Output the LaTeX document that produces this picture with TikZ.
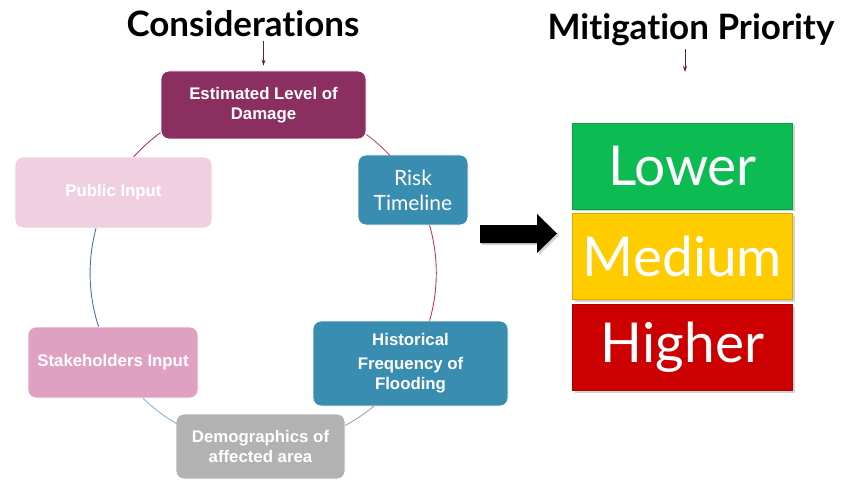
\documentclass[tikz,border=0pt]{standalone}
\usepackage{fontspec}
\setmainfont{Liberation Sans}
\newfontfamily\gillfont[Ligatures=NoCommon]{Lato}
\usetikzlibrary{arrows.meta,backgrounds,shadows}

\definecolor{dmgfill}{RGB}{139,46,96}
\definecolor{pubfill}{RGB}{240,207,225}
\definecolor{stakefill}{RGB}{224,160,194}
\definecolor{tealfill}{RGB}{57,141,176}
\definecolor{demofill}{RGB}{178,178,178}
\definecolor{lowfill}{RGB}{12,187,82}
\definecolor{medfill}{RGB}{255,204,0}
\definecolor{highfill}{RGB}{204,0,0}
\definecolor{tipcol}{RGB}{92,35,70}

\begin{document}
\begin{tikzpicture}[x=1pt,y=1pt,
  box/.style={rounded corners=8pt,draw=white,line width=0.8pt,align=center,
    text=white,inner sep=0pt,font=\bfseries\fontsize{16.8}{20}\selectfont},
  prio/.style={fill=#1,draw=#1!85!black,line width=0.8pt,text=white,
    minimum width=220,minimum height=86,inner sep=0pt,
    font=\gillfont\fontsize{55}{55}\selectfont,
    drop shadow={shadow xshift=2pt,shadow yshift=-2pt,opacity=0.35}},
  title/.style={font=\gillfont\bfseries\fontsize{35}{35}\selectfont,inner sep=0pt},
  link/.style={line width=0.9pt},
  down/.style={draw=tipcol,line width=0.8pt,-{Stealth[length=6pt,width=4pt]}}]
\useasboundingbox (0,0) rectangle (851,480);

% headings
\node[title] (cons) at (243,456) {Considerations};
\node[title] (mit) at (691,450) {Mitigation Priority};

% the ring of considerations
\node[box,fill=dmgfill,minimum width=205,minimum height=68] (dmg) at (263.5,375) {Estimated Level of\\Damage};
\node[box,fill=pubfill,minimum width=197,minimum height=71] (pub) at (113.5,287.5) {Public Input};
\node[box,fill=tealfill,minimum width=110,minimum height=70,font=\gillfont\fontsize{21}{25}\selectfont] (risk) at (413,290) {Risk\\Timeline};
\node[box,fill=tealfill,minimum width=195,minimum height=85] (hist) at (410.5,116.5) {Historical\\[4pt]Frequency of\\Flooding};
\node[box,fill=stakefill,minimum width=170,minimum height=71] (stake) at (113,117.5) {Stakeholders Input};
\node[box,fill=demofill,minimum width=169,minimum height=65] (demo) at (260.5,33.5) {Demographics of\\affected area};

% arcs of one circle, centre (263,207), radius 173
\draw[link,draw={rgb,255:red,178;green,80;blue,122}] (dmg.344) arc[start angle=53.5,end angle=43,radius=173];
\draw[link,draw={rgb,255:red,158;green,61;blue,107}] (dmg.195) arc[start angle=126,end angle=138,radius=173];
\draw[link,draw={rgb,255:red,77;green,111;blue,181}] (pub.244) arc[start angle=165,end angle=198,radius=173];
\draw[link,draw={rgb,255:red,127;green,184;blue,216}] (stake.310) arc[start angle=226,end angle=240,radius=173];
\draw[link,draw={rgb,255:red,168;green,153;blue,181}] (demo.14) arc[start angle=298.3,end angle=309.8,radius=173];
\draw[link,draw={rgb,255:red,192;green,56;blue,90}] (hist.66.5) arc[start angle=-16,end angle=16,radius=173];

% pointers under the headings
\coordinate (mitend) at (685,408);
\draw[down] ([yshift=-4pt]cons.south -| dmg.north) -- ([yshift=5pt]dmg.north);
\draw[down] ([yshift=-3pt]mit.south -| mitend) -- (mitend);

% block arrow
\fill[black,drop shadow={shadow xshift=2pt,shadow yshift=-2pt,opacity=0.35}]
  (480,237) -- (537,237) -- (537,227) -- (557,246.5) -- (537,266) -- (537,255) -- (480,255) -- cycle;

% priority levels
\node[prio=lowfill] (low) at (682.5,314) {Lower};
\node[prio=medfill] (med) at (682.5,223.5) {Medium};
\node[prio=highfill] (high) at (682.5,132.5) {Higher};
\end{tikzpicture}
\end{document}
